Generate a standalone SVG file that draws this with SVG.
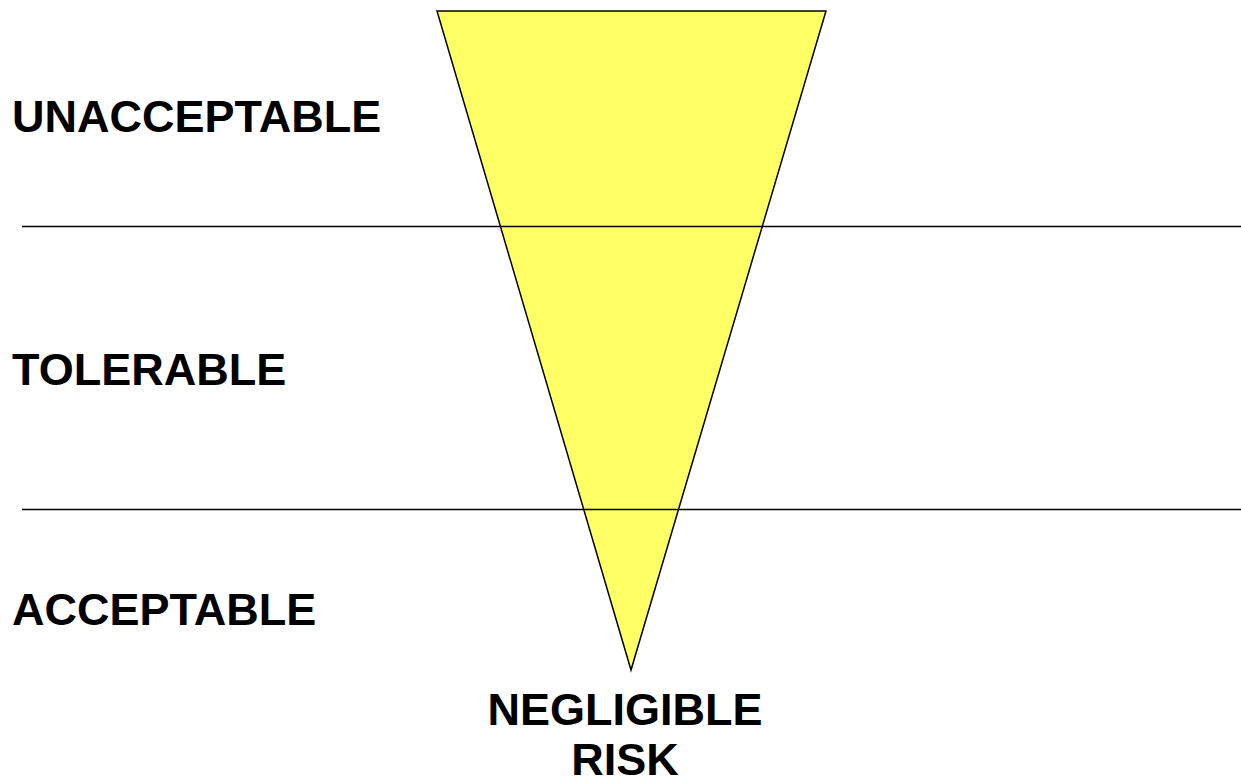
<svg xmlns="http://www.w3.org/2000/svg" width="1241" height="783" viewBox="0 0 1241 783">
<style>
.lbl{font-family:"Liberation Sans",Arial,sans-serif;font-weight:bold;font-size:45px;fill:#000}
.ln{stroke:#000;stroke-width:1.5;fill:none}
</style>
<rect width="1241" height="783" fill="#fff"/>
<g id="triangle"><polygon points="437,11 826,11 631,670" fill="#ffff66" stroke="#000" stroke-width="1.5" stroke-linejoin="miter"/></g>
<g id="connectors">
<line class="ln" x1="22" y1="226.5" x2="1241" y2="226.5"/>
<line class="ln" x1="22" y1="509.5" x2="1241" y2="509.5"/>
</g>
<g id="unacceptable"><text class="lbl" x="12" y="132">UNACCEPTABLE</text></g>
<g id="tolerable"><text class="lbl" x="12" y="385">TOLERABLE</text></g>
<g id="acceptable"><text class="lbl" x="12" y="625">ACCEPTABLE</text></g>
<g id="negligible"><text class="lbl" x="625" y="725" text-anchor="middle">NEGLIGIBLE</text><text class="lbl" x="625" y="775" text-anchor="middle">RISK</text></g>
</svg>
